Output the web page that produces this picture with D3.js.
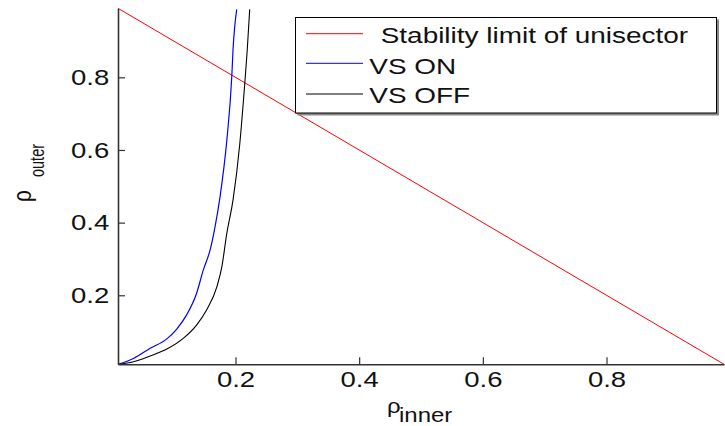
<!DOCTYPE html>
<html>
<head>
<meta charset="utf-8">
<script src="https://cdn.jsdelivr.net/npm/d3@7"></script>
<style>
  body { margin: 0; background: #fff; }
  text { font-family: "Liberation Sans", Arial, sans-serif; fill: #111; }
</style>
</head>
<body>
<div id="chart"></div>
<script>
// data
var stabInner = [0.01, 0.99],
    stabOuter = [0.99, 0.01];

var onInner = [0.010, 0.035, 0.062, 0.089, 0.105, 0.121, 0.137, 0.148, 0.159, 0.167, 0.175, 0.186, 0.194, 0.196, 0.202],
    onOuter = [0.010, 0.026, 0.054, 0.080, 0.107, 0.146, 0.205, 0.270, 0.325, 0.389, 0.471, 0.627, 0.802, 0.875, 0.987];

var offInner = [0.010, 0.035, 0.062, 0.089, 0.116, 0.137, 0.153, 0.170, 0.178, 0.186, 0.196, 0.207, 0.215, 0.219, 0.223],
    offOuter = [0.010, 0.017, 0.033, 0.052, 0.082, 0.118, 0.159, 0.224, 0.279, 0.371, 0.462, 0.618, 0.783, 0.875, 0.987];

var xTicks = [0.2, 0.4, 0.6, 0.8],
    yTicks = [0.2, 0.4, 0.6, 0.8];

var legendNames = ["Stability limit of unisector", "VS ON", "VS OFF"],
    colors = ["#ff0000", "#0000ff", "#000000"];

var W = 725, H = 426;
var margin = {top: 8.3, right: 1, bottom: 61.7, left: 118},
    width = W - margin.left - margin.right,
    height = H - margin.top - margin.bottom;

var svg = d3.select("#chart")
  .append("svg")
    .attr("width", W)
    .attr("height", H)
  .append("g")
    .attr("transform", "translate(" + margin.left + "," + margin.top + ")");

var x = d3.scaleLinear().domain([0.01, 0.99]).range([0, width]);
var y = d3.scaleLinear().domain([0.01, 0.99]).range([height, 0]);

svg.append("clipPath").attr("id", "clip")
  .append("rect").attr("width", width).attr("height", height);

// zip arrays into points
function pts(xs, ys) { return xs.map(function(v, i) { return [v, ys[i]]; }); }

var line = d3.line()
  .curve(d3.curveMonotoneX)
  .x(function(d) { return x(d[0]); })
  .y(function(d) { return y(d[1]); });

var series = [pts(stabInner, stabOuter), pts(onInner, onOuter), pts(offInner, offOuter)];
var widths = [1, 1.2, 1.1];

svg.append("g").attr("clip-path", "url(#clip)")
  .selectAll("path").data(series).enter().append("path")
    .attr("d", line)
    .attr("fill", "none")
    .attr("stroke", function(d, i) { return colors[i]; })
    .attr("stroke-width", function(d, i) { return widths[i]; });

// axes, MATLAB style ticks pointing in
var xAxis = svg.append("g")
  .attr("transform", "translate(0," + height + ")")
  .call(d3.axisBottom(x).tickValues(xTicks).tickFormat(d3.format(".1f"))
    .tickSizeInner(-7).tickSizeOuter(0).tickPadding(7.5));

var yAxis = svg.append("g")
  .call(d3.axisLeft(y).tickValues(yTicks).tickFormat(d3.format(".1f"))
    .tickSizeInner(-7).tickSizeOuter(0).tickPadding(7));

[xAxis, yAxis].forEach(function(a) {
  a.select(".domain").attr("stroke", "#333").attr("stroke-width", 1.6);
  a.selectAll(".tick line").attr("stroke", "#333").attr("stroke-width", 1.2);
  a.selectAll(".tick text")
    .attr("font-size", "22px")
    .attr("fill", "#111")
    .attr("font-family", "Liberation Sans, Arial, sans-serif")
    .attr("transform", "scale(1.25,1)");
});

// axis labels
var root = d3.select("#chart svg");

root.append("text")
  .attr("transform", "translate(387,413) scale(1.2,1)")
  .attr("font-size", "20px")
  .text("ρ");
root.append("text")
  .attr("transform", "translate(399,421.5) scale(1.2,1)")
  .attr("font-size", "20px")
  .text("inner");

root.append("text")
  .attr("transform", "translate(31,202) rotate(-90) scale(1,1.2)")
  .attr("font-size", "21px")
  .text("ρ");
root.append("text")
  .attr("transform", "translate(43.5,177) rotate(-90) scale(1,1.35)")
  .attr("font-size", "14.5px")
  .text("outer");

// legend
var lg = root.append("g");
lg.append("rect")
  .attr("x", 297.5).attr("y", 19.5).attr("width", 421.5).attr("height", 96)
  .attr("fill", "#888");
lg.append("rect")
  .attr("x", 295.5).attr("y", 17.5).attr("width", 421).attr("height", 95.5)
  .attr("fill", "#fff").attr("stroke", "#000").attr("stroke-width", 1);

var rowY = [33.7, 63.3, 94],
    textX = [380.7, 369.3, 369.3],
    baseY = [43, 74, 103];

legendNames.forEach(function(name, i) {
  lg.append("line")
    .attr("x1", 306).attr("x2", 363)
    .attr("y1", rowY[i]).attr("y2", rowY[i])
    .attr("stroke", colors[i]).attr("stroke-width", 1);
  lg.append("text")
    .attr("transform", "translate(" + textX[i] + "," + baseY[i] + ") scale(1.3,1)")
    .attr("font-size", "21.5px")
    .text(name);
});
</script>
</body>
</html>
